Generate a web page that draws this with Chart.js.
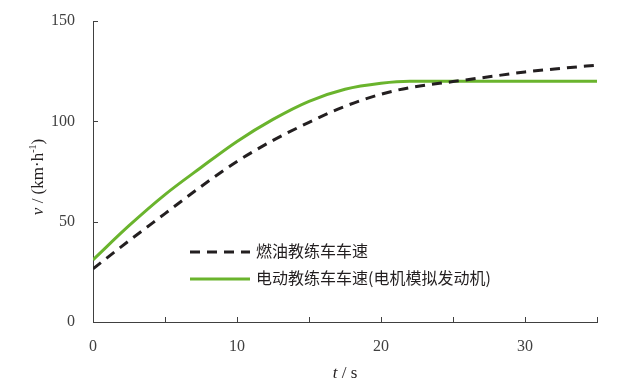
<!DOCTYPE html>
<html lang="zh">
<head>
<meta charset="UTF-8">
<title>车速对比</title>
<script src="https://cdn.jsdelivr.net/npm/chart.js@4"></script>
<style>
  * { margin: 0; padding: 0; }
  body { background: #ffffff; width: 619px; height: 389px; overflow: hidden; }
  #wrap { position: relative; width: 619px; height: 389px; }
</style>
</head>
<body>
<div id="wrap"><canvas id="grafico" width="619" height="389"></canvas></div>
<script>
// dados
const tempos = [0, 2.5, 5, 7.5, 10, 12.5, 15, 17.5, 20, 22, 25, 27.5, 30, 32.5, 35];
const velCombustao = [26.5, 40.5, 54, 67.5, 80, 90.5, 99.5, 107.5, 113.5, 116.8, 119.8, 122.2, 124.6, 126.4, 128];
const velEletrico = [31, 48, 63.5, 77, 90, 101, 110, 116, 119, 120, 120, 120, 120, 120, 120];
const nomesSeries = ['燃油教练车车速', '电动教练车车速(电机模拟发动机)'];
const ticksX = [0, 10, 20, 30];
const ticksY = [0, 50, 100, 150];

const corEixo = '#404040';
const corTexto = '#231f20';
const fonteSerif = '"Liberation Serif", "Times New Roman", serif';
const fonteCJK = '"Noto Sans CJK SC", "Noto Sans", sans-serif';

const pontos = (ys) => tempos.map((t, i) => ({ x: t, y: ys[i] }));

// marcas dos eixos para dentro + legenda + títulos
const extras = {
    id: 'extras',
    afterDraw(chart) {
        const ctx = chart.ctx;
        const sx = chart.scales.x, sy = chart.scales.y;
        const area = chart.chartArea;
        ctx.save();
        ctx.strokeStyle = corEixo;
        ctx.lineWidth = 1;
        sx.ticks.forEach(t => {
            const px = Math.round(sx.getPixelForValue(t.value)) + 0.5;
            ctx.beginPath();
            ctx.moveTo(px, area.bottom);
            ctx.lineTo(px, area.bottom - 5);
            ctx.stroke();
        });
        sy.ticks.forEach(t => {
            const py = Math.round(sy.getPixelForValue(t.value)) + 0.5;
            ctx.beginPath();
            ctx.moveTo(area.left, py);
            ctx.lineTo(area.left + 5, py);
            ctx.stroke();
        });

        // legenda
        const lx = 190, ly = [252, 279];
        chart.data.datasets.forEach((ds, i) => {
            ctx.beginPath();
            ctx.strokeStyle = ds.borderColor;
            ctx.lineWidth = ds.borderWidth;
            ctx.setLineDash(ds.borderDash || []);
            ctx.moveTo(lx, ly[i]);
            ctx.lineTo(lx + 60, ly[i]);
            ctx.stroke();
            ctx.setLineDash([]);
            ctx.fillStyle = corTexto;
            ctx.font = '16px ' + fonteCJK;
            ctx.textBaseline = 'middle';
            ctx.textAlign = 'left';
            ctx.fillText(ds.label, lx + 66, ly[i] - 1);
        });

        // título eixo x: "t / s"
        ctx.fillStyle = corTexto;
        ctx.textBaseline = 'alphabetic';
        ctx.font = 'italic 17px ' + fonteSerif;
        const wt = ctx.measureText('t').width;
        ctx.font = '17px ' + fonteSerif;
        const ws = ctx.measureText(' / s').width;
        let x0 = (area.left + area.right) / 2 - (wt + ws) / 2;
        ctx.font = 'italic 17px ' + fonteSerif;
        ctx.fillText('t', x0, 378);
        ctx.font = '17px ' + fonteSerif;
        ctx.fillText(' / s', x0 + wt, 378);

        // título eixo y: "v / (km·h-1)"
        ctx.translate(43, 177);
        ctx.rotate(-Math.PI / 2);
        const partes = [
            { s: 'v', f: 'italic 17px ' + fonteSerif, dy: 0 },
            { s: ' / (km·h', f: '17px ' + fonteSerif, dy: 0 },
            { s: '-1', f: '10px ' + fonteSerif, dy: -7 },
            { s: ')', f: '17px ' + fonteSerif, dy: 0 }
        ];
        let total = 0;
        partes.forEach(p => { ctx.font = p.f; p.w = ctx.measureText(p.s).width; total += p.w; });
        let cx = -total / 2;
        partes.forEach(p => {
            ctx.font = p.f;
            ctx.fillText(p.s, cx, p.dy);
            cx += p.w;
        });
        ctx.restore();
    }
};

new Chart(document.getElementById('grafico'), {
    type: 'line',
    data: {
        datasets: [
            {
                label: nomesSeries[0],
                data: pontos(velCombustao),
                borderColor: '#231f20',
                borderWidth: 3,
                borderDash: [10, 7],
                pointRadius: 0,
                cubicInterpolationMode: 'monotone',
                fill: false
            },
            {
                label: nomesSeries[1],
                data: pontos(velEletrico),
                borderColor: '#6ab42d',
                borderWidth: 3,
                pointRadius: 0,
                cubicInterpolationMode: 'monotone',
                fill: false
            }
        ]
    },
    options: {
        responsive: false,
        animation: false,
        layout: { padding: { top: 21, right: 22, left: 0, bottom: 0 } },
        plugins: {
            legend: { display: false },
            tooltip: { enabled: false }
        },
        scales: {
            x: {
                type: 'linear',
                min: 0,
                max: 35,
                afterFit: (s) => { s.height = 67; s.paddingLeft = 0; s.paddingRight = 0; },
                afterBuildTicks: (s) => {
                    s.ticks = [0, 5, 10, 15, 20, 25, 30, 35].map(v => ({ value: v }));
                },
                grid: { display: false, drawTicks: false },
                border: { display: true, color: corEixo, width: 1 },
                ticks: {
                    padding: 15,
                    color: corEixo,
                    font: { family: fonteSerif, size: 16 },
                    autoSkip: false,
                    maxRotation: 0,
                    callback: (v) => ticksX.includes(v) ? String(v) : ''
                }
            },
            y: {
                min: 0,
                max: 150,
                afterFit: (s) => { s.width = 93; s.paddingTop = 0; s.paddingBottom = 0; },
                afterBuildTicks: (s) => {
                    s.ticks = ticksY.map(v => ({ value: v }));
                },
                grid: { display: false, drawTicks: false },
                border: { display: true, color: corEixo, width: 1 },
                ticks: {
                    padding: 18,
                    color: corEixo,
                    font: { family: fonteSerif, size: 16 },
                    callback: (v) => String(v)
                }
            }
        }
    },
    plugins: [extras]
});
</script>
</body>
</html>
